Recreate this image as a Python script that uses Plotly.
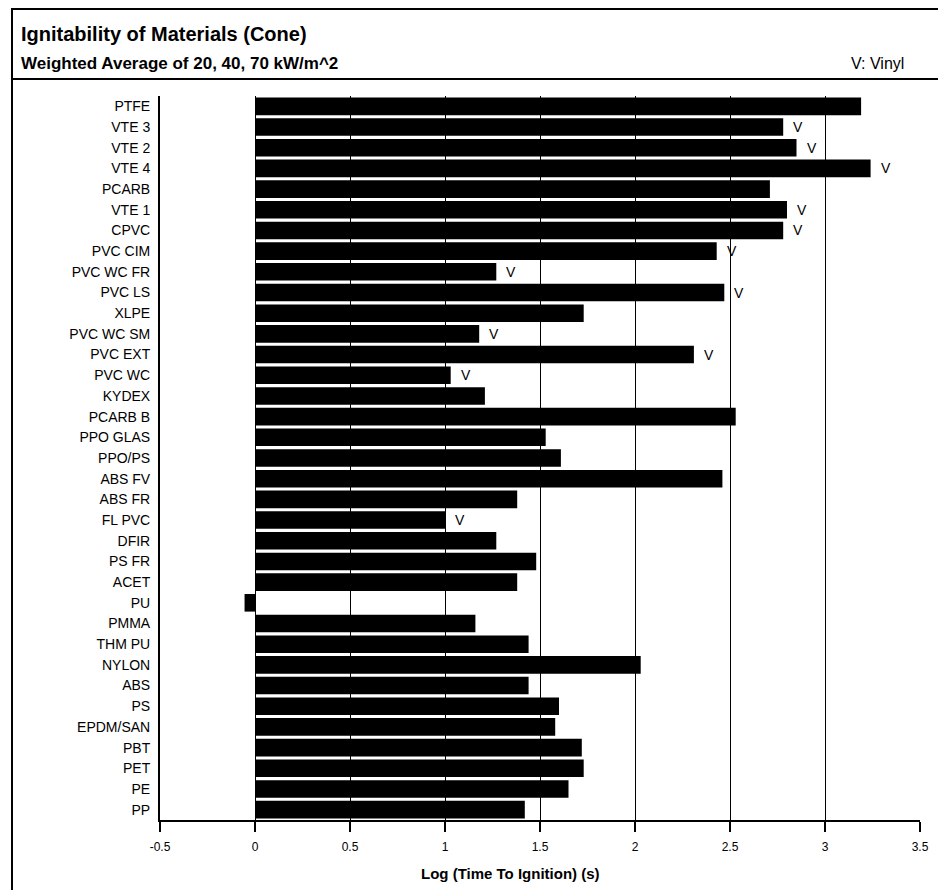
import plotly.graph_objects as go

materials = ["PTFE", "VTE 3", "VTE 2", "VTE 4", "PCARB", "VTE 1", "CPVC", "PVC CIM",
             "PVC WC FR", "PVC LS", "XLPE", "PVC WC SM", "PVC EXT", "PVC WC", "KYDEX",
             "PCARB B", "PPO GLAS", "PPO/PS", "ABS FV", "ABS FR", "FL PVC", "DFIR",
             "PS FR", "ACET", "PU", "PMMA", "THM PU", "NYLON", "ABS", "PS", "EPDM/SAN",
             "PBT", "PET", "PE", "PP"]
log_tti = [3.19, 2.78, 2.85, 3.24, 2.71, 2.80, 2.78, 2.43,
           1.27, 2.47, 1.73, 1.18, 2.31, 1.03, 1.21,
           2.53, 1.53, 1.61, 2.46, 1.38, 1.00, 1.27,
           1.48, 1.38, -0.055, 1.16, 1.44, 2.03, 1.44, 1.60, 1.58,
           1.72, 1.73, 1.65, 1.42]
vinyl = ["VTE 3", "VTE 2", "VTE 4", "VTE 1", "CPVC", "PVC CIM", "PVC WC FR", "PVC LS",
         "PVC WC SM", "PVC EXT", "PVC WC", "FL PVC"]
x_ticks = [-0.5, 0, 0.5, 1, 1.5, 2, 2.5, 3, 3.5]
x_tick_text = ["-0.5", "0", "0.5", "1", "1.5", "2", "2.5", "3", "3.5"]

FONT = "Liberation Sans, Arial, Helvetica, sans-serif"
OFF = 8                      # page body margin
W, H = 946 - OFF, 890 - OFF  # figure size
L, R, T, B = 160 - OFF, 920 - OFF, 96 - OFF, 820 - OFF  # plot area in figure px


def px(x):
    """page x pixel -> paper coordinate"""
    return (x - OFF - L) / (R - L)


def py(y):
    """page y pixel -> paper coordinate"""
    return (B - (y - OFF)) / (B - T)


fig = go.Figure()
fig.add_trace(go.Bar(
    y=materials, x=log_tti, orientation="h",
    marker=dict(color="black", line=dict(width=0)),
    hoverinfo="x+y", showlegend=False,
))

annotations = []
for m, v in zip(materials, log_tti):
    if m in vinyl:
        annotations.append(dict(x=v, y=m, xref="x", yref="y", text="V",
                                showarrow=False, xanchor="center", xshift=15,
                                font=dict(family=FONT, size=14, color="black")))

annotations += [
    dict(x=px(19), y=py(34), xref="paper", yref="paper", xanchor="left", yanchor="middle",
         text="<b>Ignitability of Materials (Cone)</b>", showarrow=False,
         font=dict(family=FONT, size=20, color="black")),
    dict(x=px(19), y=py(63), xref="paper", yref="paper", xanchor="left", yanchor="middle",
         text="<b>Weighted Average of 20, 40, 70 kW/m^2</b>", showarrow=False,
         font=dict(family=FONT, size=17, color="black")),
    dict(x=px(906), y=py(63), xref="paper", yref="paper", xanchor="right", yanchor="middle",
         text="V: Vinyl", showarrow=False,
         font=dict(family=FONT, size=16, color="black")),
    dict(x=px(510), y=py(873), xref="paper", yref="paper", xanchor="center", yanchor="middle",
         text="<b>Log (Time To Ignition) (s)</b>", showarrow=False,
         font=dict(family=FONT, size=15, color="black")),
]

shapes = [
    dict(type="rect", xref="paper", yref="paper", x0=px(12), x1=px(941), y0=py(9), y1=py(900),
         line=dict(color="black", width=2), fillcolor="rgba(0,0,0,0)", layer="above"),
    dict(type="line", xref="paper", yref="paper", x0=px(12), x1=px(941), y0=py(79), y1=py(79),
         line=dict(color="black", width=2)),
]

fig.update_layout(
    width=W, height=H,
    margin=dict(l=L, r=W - R, t=T, b=H - B, pad=0),
    paper_bgcolor="white", plot_bgcolor="white",
    bargap=0.15,
    font=dict(family=FONT, size=12, color="black"),
    annotations=annotations,
    shapes=shapes,
    xaxis=dict(
        range=[-0.5, 3.5], tickvals=x_ticks, ticktext=x_tick_text,
        showgrid=True, gridcolor="black", gridwidth=1,
        zeroline=False,
        showline=True, linecolor="black", linewidth=2,
        ticks="outside", ticklen=10, tickwidth=2, tickcolor="black",
        ticklabelstandoff=5,
        tickfont=dict(family=FONT, size=12),
        fixedrange=True,
    ),
    yaxis=dict(
        categoryorder="array", categoryarray=materials,
        autorange="reversed",
        showgrid=False, zeroline=False,
        showline=True, linecolor="black", linewidth=2,
        ticks="", ticklabelstandoff=5,
        tickfont=dict(family=FONT, size=14),
        fixedrange=True,
    ),
)

fig.write_html("out.html")
